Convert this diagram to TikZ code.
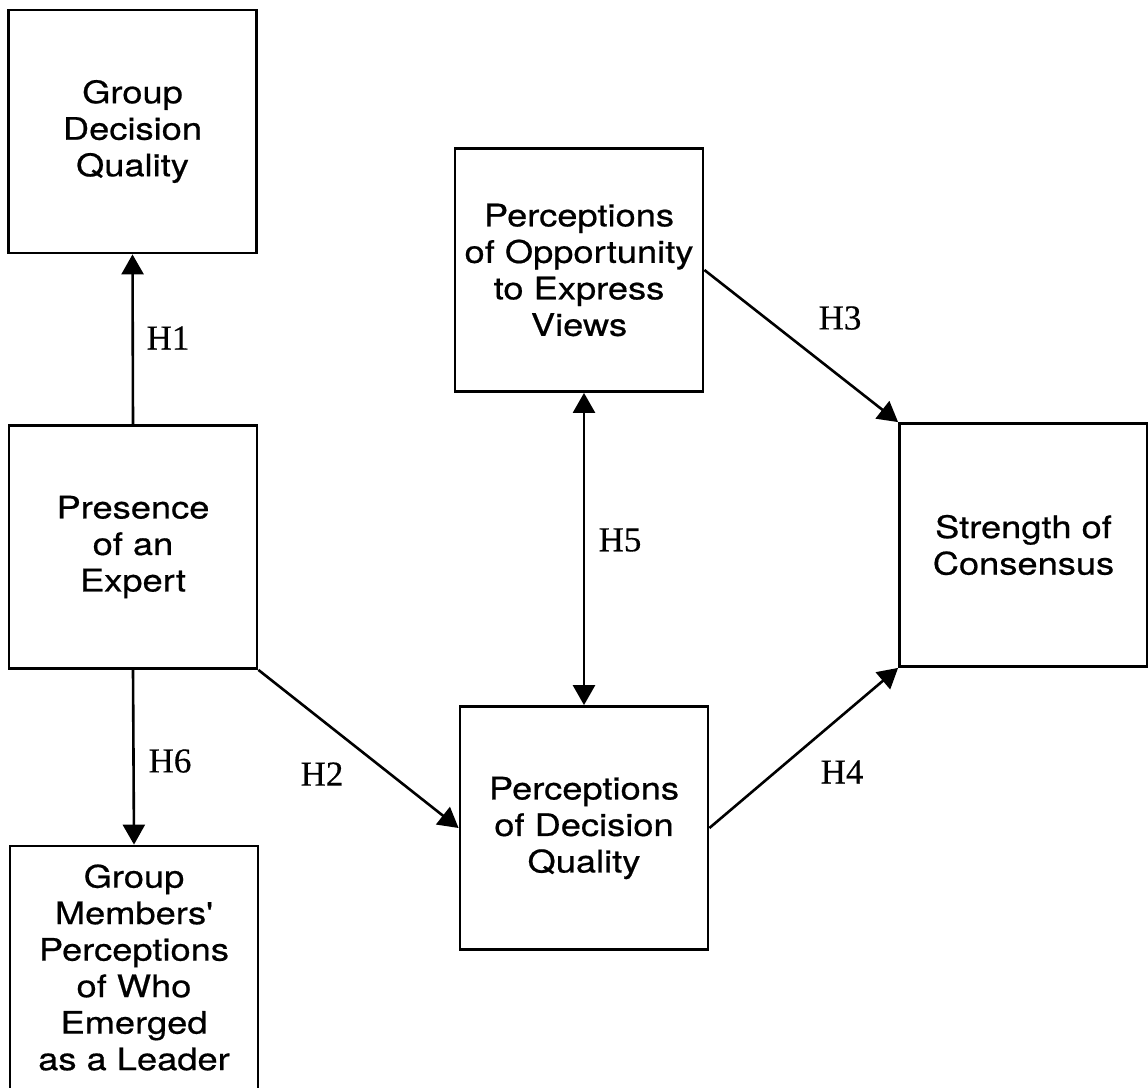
\documentclass[tikz,border=0pt]{standalone}
\usepackage{fontspec}
\setmainfont{Liberation Serif}[FakeBold=0.4]
\newfontfamily\boxfont{TeX Gyre Heros}[FakeStretch=1.17, FakeBold=0.6]
\usetikzlibrary{arrows.meta}

\tikzset{
  construct/.style={draw, line width=2.8pt, inner sep=0pt,
    minimum width=248pt, minimum height=243pt, align=center,
    font=\boxfont\fontsize{31}{36.5}\selectfont},
  link/.style={line width=2.6pt, -{Triangle[length=20pt,width=22pt]}},
  twoway/.style={line width=2.6pt, {Triangle[length=20pt,width=22pt]}-{Triangle[length=20pt,width=22pt]}},
  hyp/.style={inner sep=0pt, font=\fontsize{35}{40}\selectfont}
}

\begin{document}
\begin{tikzpicture}[x=1pt, y=-1pt]
\useasboundingbox (0,0) rectangle (1148,1087);
\clip (0,0) rectangle (1148,1087);

% constructs
\node[construct] (gdq)  at (132.5,131.5) {Group\\Decision\\Quality};
\node[construct] (pres) at (133,547)     {Presence\\of an\\Expert};
\node[construct] (lead) at (134,967.5)   {Group\\Members'\\Perceptions\\of Who\\Emerged\\as a Leader};
\node[construct] (opp)  at (579,270)     {Perceptions\\of Opportunity\\to Express\\Views};
\node[construct] (pdq)  at (584,828)     {Perceptions\\of Decision\\Quality};
\node[construct] (str)  at (1023.5,545)  {Strength of\\Consensus};

% hypothesised paths
\draw[link]   (pres.north) -- (gdq.south);
\draw[link]   (pres.south) -- (lead.north);
\draw[link]   (pres.south east) -- (pdq.west);
\draw[twoway] (pdq.north |- opp.south) -- (pdq.north);
\draw[link]   (opp.east) -- (str.north west);
\draw[link]   (pdq.east) -- (str.south west);

% path labels
\node[hyp] (h1) at (168,338) {H1};
\node[hyp] (h2) at (322,774) {H2};
\node[hyp] (h3) at (840,318) {H3};
\node[hyp] (h4) at (842,772) {H4};
\node[hyp] (h5) at (620,540) {H5};
\node[hyp] (h6) at (170,761) {H6};
\end{tikzpicture}
\end{document}
